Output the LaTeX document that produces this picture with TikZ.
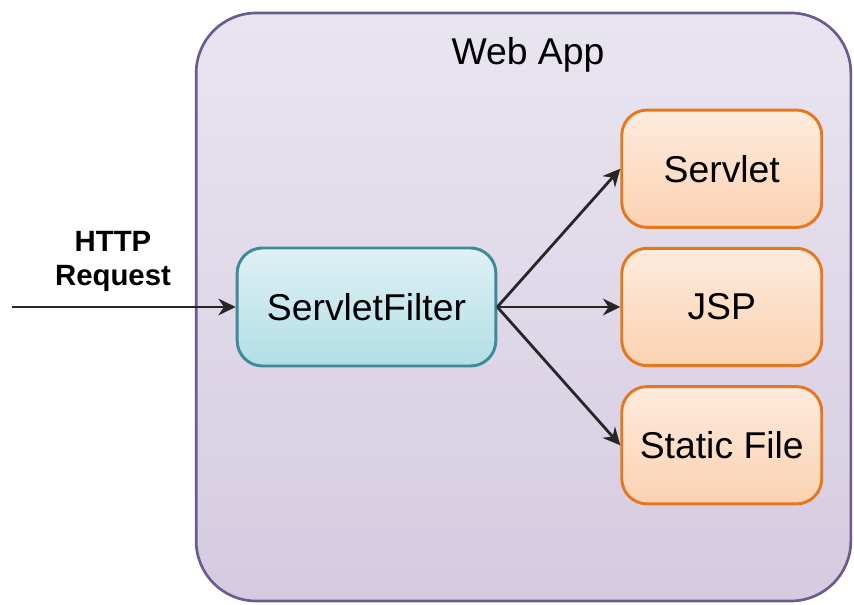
\documentclass[tikz,border=0pt]{standalone}
\usepackage{fontspec}
\setmainfont{Liberation Sans}
\usetikzlibrary{positioning, arrows.meta}

\definecolor{apptop}{HTML}{E9E5F0}
\definecolor{appbot}{HTML}{D5CBE1}
\definecolor{appline}{HTML}{6B5B8E}
\definecolor{filtertop}{HTML}{DFF1F5}
\definecolor{filterbot}{HTML}{B3DEE6}
\definecolor{filterline}{HTML}{3C8B9B}
\definecolor{targettop}{HTML}{FDEBDD}
\definecolor{targetbot}{HTML}{FBD2B2}
\definecolor{targetline}{HTML}{E5771E}

\begin{document}
\begin{tikzpicture}[
      x=0.75pt, y=-0.75pt,
      node distance = 13.5pt and 92.25pt,
      app/.style    = {draw=appline, line width=2pt, rounded corners=45pt,
                       top color=apptop, bottom color=appbot,
                       minimum width=491pt, minimum height=441pt},
      filter/.style = {draw=filterline, line width=2.2pt, rounded corners=19pt,
                       top color=filtertop, bottom color=filterbot,
                       minimum width=194pt, minimum height=88.5pt,
                       font=\fontsize{28}{32}\selectfont},
      target/.style = {draw=targetline, line width=2.2pt, rounded corners=19pt,
                       top color=targettop, bottom color=targetbot,
                       minimum width=150pt, minimum height=88pt,
                       font=\fontsize{28}{32}\selectfont},
      flow/.style   = {->, line width=2.1pt, draw=black!85},
      >={Stealth[length=13pt, width=12.5pt]}
  ]
  \useasboundingbox (0,0) rectangle (854,605);

  % --- Container ---
  \node[app] (app) at (523.5,307) {};
  \node[font=\fontsize{28}{32}\selectfont] (title) at (528,55) {Web App};

  % --- Filter and targets ---
  \node[filter] (sfilter) at (366.5,307) {ServletFilter};
  \node[target, right=of sfilter] (jsp)     {JSP};
  \node[target, above=of jsp]     (servlet) {Servlet};
  \node[target, below=of jsp]     (static)  {Static File};

  % --- Incoming request ---
  \coordinate (src) at (12,307);
  \node[font=\bfseries\fontsize{22}{25.5}\selectfont, align=center] (http) at (113,261)
        {HTTP\\Request};
  \draw[flow] (src) -- (sfilter.west);

  % --- Dispatch ---
  \draw[flow] (sfilter.east) -- (servlet.west);
  \draw[flow] (sfilter.east) -- (jsp.west);
  \draw[flow] (sfilter.east) -- (static.west);

\end{tikzpicture}
\end{document}
